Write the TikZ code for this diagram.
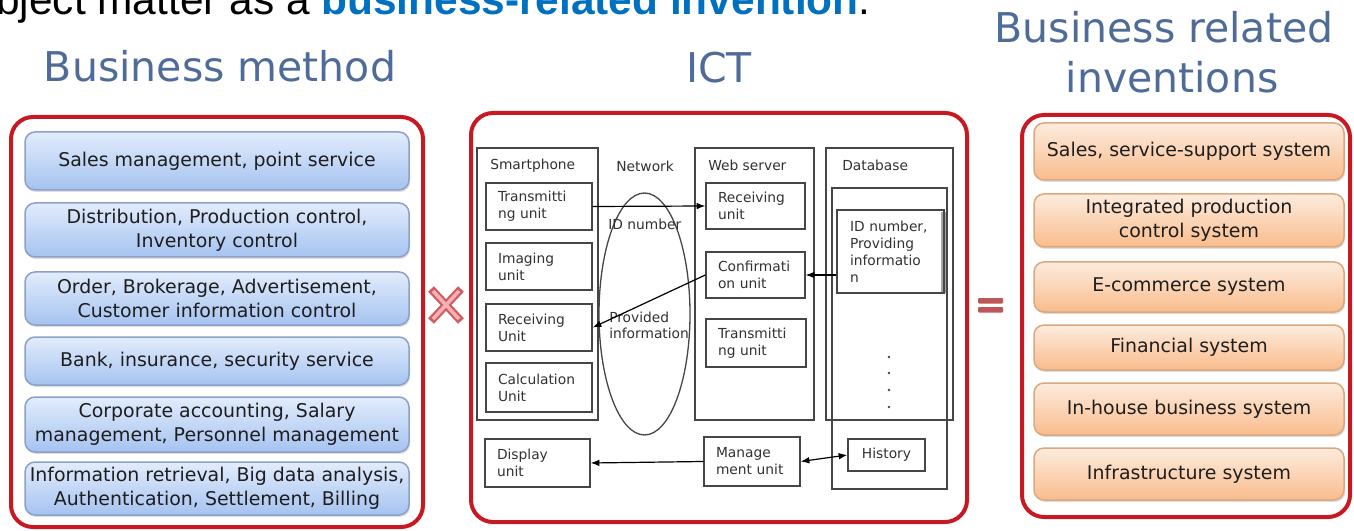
\documentclass[tikz,border=0pt]{standalone}
\usepackage{fontspec}
\setmainfont{DejaVu Sans}
\newfontfamily\arialf{Liberation Sans}
\usetikzlibrary{arrows.meta,shapes.geometric,shadows,calc}
\newdimen\pxu \pxu=0.75pt
\hyphenpenalty=10000
\exhyphenpenalty=10000
\definecolor{redc}{RGB}{200,25,35}
\definecolor{topblue}{RGB}{0,112,192}
\definecolor{titlec}{RGB}{79,108,152}
\definecolor{bluetop}{RGB}{226,236,252}
\definecolor{bluebot}{RGB}{165,195,240}
\definecolor{blueline}{RGB}{140,160,200}
\definecolor{orgtop}{RGB}{253,236,222}
\definecolor{orgbot}{RGB}{249,188,140}
\definecolor{orgline}{RGB}{218,168,128}
\definecolor{txt}{RGB}{30,30,30}
\definecolor{linec}{RGB}{70,70,70}
\definecolor{txtm}{RGB}{50,50,50}
\definecolor{xdark}{RGB}{205,95,100}
\definecolor{xlight}{RGB}{246,178,178}
\definecolor{eqc}{RGB}{190,85,88}
\newcommand{\boxfont}{\fontsize{14.2pt}{18pt}\selectfont}
\newcommand{\smallf}{\fontsize{10.35pt}{12.75pt}\selectfont}
\newcommand{\titlef}{\fontsize{30.75pt}{37.5pt}\selectfont}
\begin{document}
\begin{tikzpicture}[x=0.75pt,y=-0.75pt,
  redbox/.style={draw=redc, line width=4\pxu, rounded corners=22\pxu, inner sep=0},
  bbox/.style={draw=blueline, line width=1.5\pxu, rounded corners=10\pxu,
    top color=bluetop, bottom color=bluebot, minimum width=384\pxu, inner sep=0,
    align=center, font=\boxfont, text=txt,
    drop shadow={shadow xshift=0.8pt, shadow yshift=-1.5pt, opacity=0.25}},
  obox/.style={draw=orgline, line width=1.5\pxu, rounded corners=10\pxu,
    top color=orgtop, bottom color=orgbot, minimum width=310\pxu, inner sep=0,
    align=center, font=\boxfont, text=txt,
    drop shadow={shadow xshift=0.8pt, shadow yshift=-1.5pt, opacity=0.25}},
  titletext/.style={font=\titlef, text=titlec, inner sep=0, anchor=base},
  cont/.style={draw=linec, line width=1.4\pxu, inner sep=0},
  unit/.style={draw=linec, line width=1.4\pxu, inner xsep=12\pxu, inner ysep=0,
    align=left, font=\smallf, text=txtm},
  lbl/.style={font=\smallf, text=txtm, inner sep=0, anchor=base west},
  arr/.style={-{Latex[length=6.5pt,width=5pt]}, line width=1.2\pxu, draw=black},
  arrboth/.style={{Latex[length=6.5pt,width=5pt]}-{Latex[length=6.5pt,width=5pt]}, line width=1.2\pxu, draw=black}
]
\useasboundingbox (0,0) rectangle (1354,531);
\fill[white] (0,0) rectangle (1354,531);

% top line of text (cut by the page edge, as in the reference)
\begin{scope}
\clip (0,0) rectangle (1354,531);
\node[anchor=base west, inner sep=0, font=\arialf\fontsize{31.8pt}{36pt}\selectfont] (toptext) at (-4,15)
  {bject matter as a \textcolor{topblue}{\bfseries business-related invention}.};
\end{scope}

% titles
\node[titletext] (tbm) at (220,82) {Business method};
\node[titletext] (tict) at (719,83) {ICT};
\node[titletext] (tbr1) at (1164,43) {Business related};
\node[titletext] (tbr2) at (1172,93) {inventions};

% red frames
\node[redbox, minimum width=412\pxu, minimum height=410\pxu] (lframe) at (217,322) {};
\node[redbox, minimum width=496\pxu, minimum height=409\pxu] (mframe) at (719,317.5) {};
\node[redbox, minimum width=328\pxu, minimum height=402\pxu] (rframe) at (1186,316) {};

% business method boxes
\node[bbox, minimum height=58\pxu] (b1) at (217,161) {Sales management, point service};
\node[bbox, minimum height=54\pxu] (b2) at (217,230) {Distribution, Production control,\\Inventory control};
\node[bbox, minimum height=53\pxu] (b3) at (217,298.5) {Order, Brokerage, Advertisement,\\Customer information control};
\node[bbox, minimum height=48\pxu] (b4) at (217,361) {Bank, insurance, security service};
\node[bbox, minimum height=55\pxu] (b5) at (217,424.5) {Corporate accounting, Salary\\management, Personnel management};
\node[bbox, minimum height=53\pxu] (b6) at (217,488.5) {Information retrieval, Big data analysis,\\Authentication, Settlement, Billing};

% business related inventions boxes
\node[obox, minimum height=57\pxu] (o1) at (1189,151.5) {Sales, service-support system};
\node[obox, minimum height=53\pxu] (o2) at (1189,220.5) {Integrated production\\control system};
\node[obox, minimum height=50\pxu] (o3) at (1189,287) {E-commerce system};
\node[obox, minimum height=45\pxu] (o4) at (1189,347.5) {Financial system};
\node[obox, minimum height=52\pxu] (o5) at (1189,409) {In-house business system};
\node[obox, minimum height=52\pxu] (o6) at (1189,474) {Infrastructure system};

% times sign
\draw[line width=8\pxu, xdark] (431,289) -- (461,321) (461,289) -- (431,321);
\draw[line width=3.5\pxu, xlight] (433,291) -- (459,319) (459,291) -- (433,319);
% equal sign
\fill[eqc, rounded corners=1\pxu] (978,298) rectangle (1003,303.5);
\fill[eqc, rounded corners=1\pxu] (978,307) rectangle (1003,312.5);

% ICT containers
\node[cont, minimum width=121\pxu, minimum height=272\pxu] (sp) at (537.5,284) {};
\node[cont, minimum width=119\pxu, minimum height=272\pxu] (ws) at (754.5,284) {};
\node[cont, minimum width=127\pxu, minimum height=272\pxu] (db) at (889.5,284) {};
\node[cont, minimum width=115\pxu, minimum height=301\pxu] (dbin) at (889.5,338.5) {};
\node[lbl] (lsp) at (490,170) {Smartphone};
\node[lbl] (lnet) at (616,172) {Network};
\node[lbl] (lws) at (708,170.5) {Web server};
\node[lbl] (ldb) at (842,170.5) {Database};

% network ellipse
\node[draw=linec, line width=1.3\pxu, ellipse, inner sep=0, minimum width=91\pxu, minimum height=242\pxu] (net) at (644.5,314) {};
\node[lbl] (lid) at (608,230) {ID number};
\node[lbl, align=left] (lprov) at (609,339) {Provided\\information};

% smartphone units
\node[unit, text width=82\pxu, minimum height=47\pxu] (tx) at (539,206.5) {Transmitti\\ng unit};
\node[unit, text width=82\pxu, minimum height=47\pxu] (img) at (539,266.5) {Imaging\\unit};
\node[unit, text width=82\pxu, minimum height=47\pxu] (rcv) at (539,327.5) {Receiving\\Unit};
\node[unit, text width=82\pxu, minimum height=49\pxu] (calc) at (539,387.5) {Calculation\\Unit};
\node[unit, text width=81\pxu, minimum height=48\pxu] (disp) at (537.5,463) {Display\\unit};

% web server units
\node[unit, text width=75\pxu, minimum height=46\pxu] (wrcv) at (755.5,206) {Receiving\\unit};
\node[unit, text width=75\pxu, minimum height=46\pxu] (conf) at (755.5,275) {Confirmati\\on unit};
\node[unit, text width=76\pxu, minimum height=48\pxu] (wtx) at (756,343) {Transmitti\\ng unit};
\node[unit, text width=72\pxu, minimum height=49\pxu] (mgmt) at (752,461.5) {Manage\\ment unit};

% database items
\fill[gray!70] (941,212) rectangle (945.5,293);
\node[unit, inner xsep=13\pxu, text width=81\pxu, minimum height=83\pxu] (iddb) at (890.5,251.5) {ID number,\\Providing\\informatio\\n};
\node[draw=linec, line width=1.4\pxu, inner sep=0, minimum width=77\pxu, minimum height=32\pxu, font=\smallf, text=txtm] (hist) at (886.5,455) {History};
\foreach \yy in {357,373,390,407} \fill[linec] (889,\yy) circle[radius=1.4];

% connectors
\draw[arr] (tx.east) -- (wrcv.west);
\draw[arr] (conf.east -| iddb.west) -- (conf.east);
\draw[arr] (conf.west) -- (rcv.east);
\draw[arr] (mgmt.west) -- (disp.east);
\draw[arrboth] (mgmt.east) -- (hist.west);
\end{tikzpicture}
\end{document}
